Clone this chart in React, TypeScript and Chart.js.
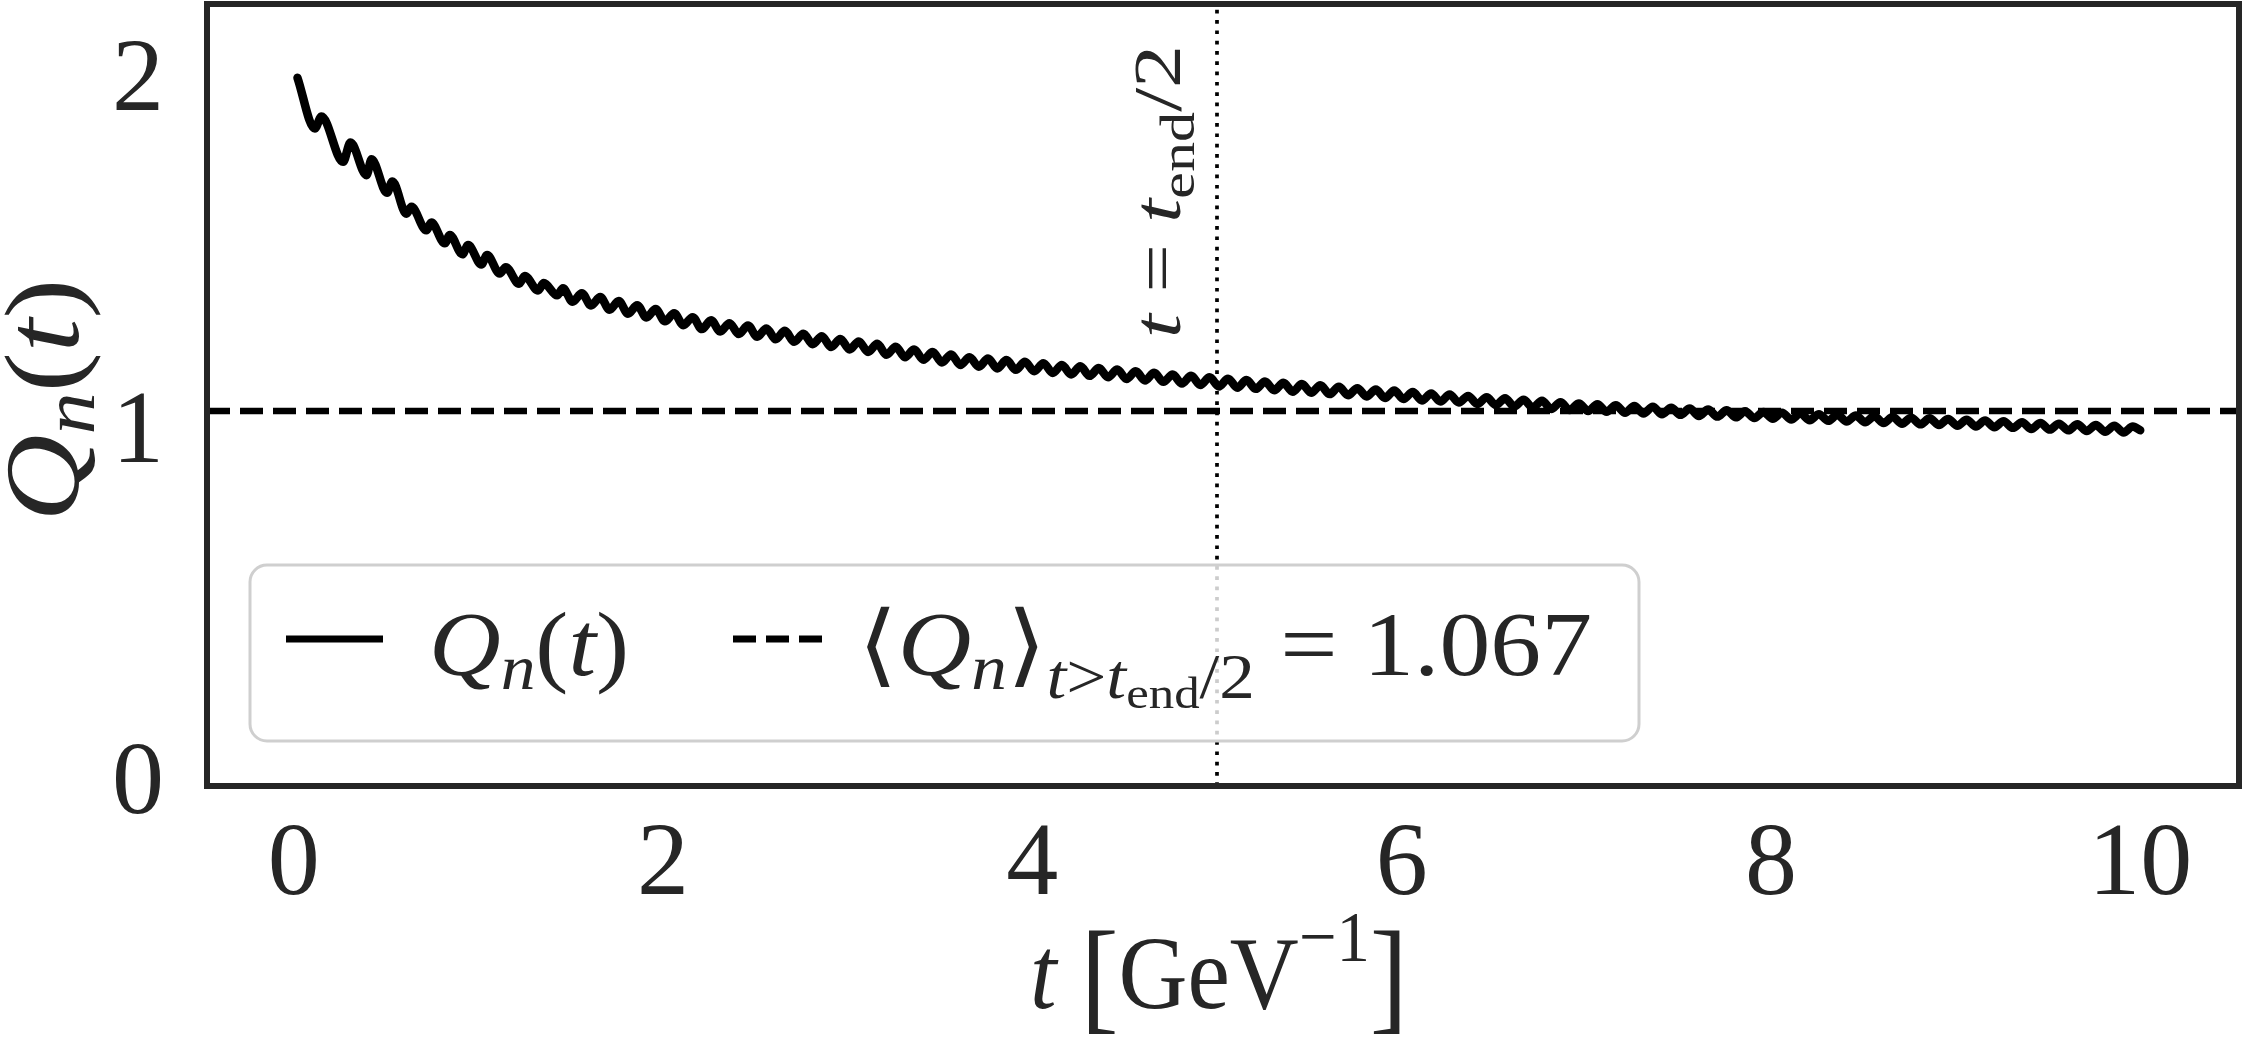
import React, { useEffect, useRef } from "react";
import { Chart, registerables } from "chart.js";

Chart.register(...registerables);

// ---------- data ----------
const T_VALUES: number[] = [
  0.02, 0.114, 0.15, 0.267, 0.307, 0.394, 0.421, 0.505, 0.534, 0.61, 0.637, 0.718, 0.745, 0.818, 0.845,
  0.913, 0.944, 1.016, 1.047, 1.115, 1.148, 1.22, 1.251, 1.323, 1.354, 1.426, 1.458,
  1.51, 1.56, 1.61, 1.66, 1.71, 1.76, 1.81, 1.86, 1.91, 1.96,
  2.01, 2.06, 2.11, 2.16, 2.21, 2.26, 2.31, 2.36, 2.41, 2.46, 2.51, 2.56, 2.61, 2.66, 2.71, 2.76, 2.81, 2.86, 2.91, 2.96,
  3.01, 3.06, 3.11, 3.16, 3.21, 3.26, 3.31, 3.36, 3.41, 3.46, 3.51, 3.56, 3.61, 3.66, 3.71, 3.76, 3.81, 3.86, 3.91, 3.96,
  4.01, 4.06, 4.11, 4.16, 4.21, 4.26, 4.31, 4.36, 4.41, 4.46, 4.51, 4.56, 4.61, 4.66, 4.71, 4.76, 4.81, 4.86, 4.91, 4.96,
  5.01, 5.06, 5.11, 5.16, 5.21, 5.26, 5.31, 5.36, 5.41, 5.46, 5.51, 5.56, 5.61, 5.66, 5.71, 5.76, 5.81, 5.86, 5.91, 5.96,
  6.01, 6.06, 6.11, 6.16, 6.21, 6.26, 6.31, 6.36, 6.41, 6.46, 6.51, 6.56, 6.61, 6.66, 6.71, 6.76, 6.81, 6.86, 6.91, 6.96,
  7.01, 7.06, 7.11, 7.16, 7.21, 7.26, 7.31, 7.36, 7.41, 7.46, 7.51, 7.56, 7.61, 7.66, 7.71, 7.76, 7.81, 7.86, 7.91, 7.96,
  8.01, 8.06, 8.11, 8.16, 8.21, 8.26, 8.31, 8.36, 8.41, 8.46, 8.51, 8.56, 8.61, 8.66, 8.71, 8.76, 8.81, 8.86, 8.91, 8.96,
  9.01, 9.06, 9.11, 9.16, 9.21, 9.26, 9.31, 9.36, 9.41, 9.46, 9.51, 9.56, 9.61, 9.66, 9.71, 9.76, 9.81, 9.86, 9.91, 9.96,
  10.0,
];

const Q_VALUES: number[] = [
  2.015, 1.871, 1.905, 1.776, 1.831, 1.738, 1.783, 1.688, 1.72, 1.628, 1.648, 1.581, 1.603, 1.544, 1.568,
  1.513, 1.539, 1.484, 1.511, 1.458, 1.476, 1.429, 1.451, 1.41, 1.431, 1.396, 1.416,
  1.378, 1.402, 1.367, 1.391, 1.355, 1.38, 1.344, 1.368, 1.333, 1.357,
  1.322, 1.345, 1.311, 1.334, 1.3, 1.325, 1.293, 1.317, 1.286, 1.31, 1.278, 1.302, 1.271, 1.295, 1.264, 1.287, 1.257, 1.28, 1.249, 1.272,
  1.242, 1.265, 1.235, 1.258, 1.227, 1.25, 1.22, 1.242, 1.213, 1.235, 1.205, 1.228, 1.198, 1.22, 1.193, 1.216, 1.188, 1.212, 1.184, 1.207,
  1.18, 1.203, 1.175, 1.198, 1.171, 1.194, 1.167, 1.189, 1.163, 1.185, 1.158, 1.18, 1.154, 1.176, 1.15, 1.171, 1.145, 1.167, 1.141, 1.163,
  1.137, 1.159, 1.133, 1.155, 1.13, 1.151, 1.126, 1.147, 1.122, 1.144, 1.119, 1.14, 1.115, 1.136, 1.112, 1.132, 1.108, 1.128, 1.104, 1.125,
  1.101, 1.121, 1.097, 1.117, 1.094, 1.114, 1.091, 1.11, 1.087, 1.106, 1.084, 1.103, 1.08, 1.099, 1.077, 1.096, 1.073, 1.092, 1.07, 1.088,
  1.067, 1.086, 1.065, 1.083, 1.062, 1.081, 1.06, 1.079, 1.058, 1.076, 1.056, 1.074, 1.053, 1.071, 1.051, 1.069, 1.049, 1.066, 1.047, 1.064,
  1.045, 1.062, 1.043, 1.06, 1.041, 1.058, 1.039, 1.056, 1.037, 1.054, 1.035, 1.052, 1.033, 1.05, 1.031, 1.048, 1.029, 1.046, 1.027, 1.044,
  1.025, 1.042, 1.023, 1.04, 1.021, 1.038, 1.019, 1.035, 1.016, 1.033, 1.014, 1.031, 1.012, 1.029, 1.01, 1.027, 1.008, 1.025, 1.006, 1.023,
  1.012,
];

const MEAN_Q = 1.067;
const T_HALF = 5;
const X_TICKS = [0, 2, 4, 6, 8, 10];
const Y_TICKS = [0, 1, 2];
const X_MIN = -0.47;
const X_MAX = 10.535;
const Y_MIN = 0;
const Y_MAX = 2.225;

// ---------- styling ----------
const W = 2242;
const H = 1041;
const FONT = '"Liberation Serif", "DejaVu Serif", serif';
const TEXT = "#262626";

type Seg = { t: string; it?: boolean; s?: number; dy?: number };

function drawRich(
  ctx: CanvasRenderingContext2D,
  segs: Seg[],
  x: number,
  y: number,
  size: number,
  align: "left" | "center",
  targetW?: number
) {
  let total = 0;
  const widths = segs.map((sg) => {
    const sz = size * (sg.s ?? 1);
    ctx.font = `${sg.it ? "italic " : ""}${sz}px ${FONT}`;
    const w = ctx.measureText(sg.t).width;
    total += w;
    return w;
  });
  const sx = targetW ? targetW / total : 1;
  const drawnW = total * sx;
  const x0 = align === "center" ? x - drawnW / 2 : x;
  ctx.save();
  ctx.translate(x0, y);
  ctx.scale(sx, 1);
  ctx.textAlign = "left";
  ctx.textBaseline = "alphabetic";
  let cx = 0;
  segs.forEach((sg, i) => {
    const sz = size * (sg.s ?? 1);
    ctx.font = `${sg.it ? "italic " : ""}${sz}px ${FONT}`;
    ctx.fillText(sg.t, cx, -(sg.dy ?? 0) * size);
    cx += widths[i];
  });
  ctx.restore();
}

function roundRect(ctx: CanvasRenderingContext2D, x: number, y: number, w: number, h: number, r: number) {
  ctx.beginPath();
  ctx.moveTo(x + r, y);
  ctx.lineTo(x + w - r, y);
  ctx.arcTo(x + w, y, x + w, y + r, r);
  ctx.lineTo(x + w, y + h - r);
  ctx.arcTo(x + w, y + h, x + w - r, y + h, r);
  ctx.lineTo(x + r, y + h);
  ctx.arcTo(x, y + h, x, y + h - r, r);
  ctx.lineTo(x, y + r);
  ctx.arcTo(x, y, x + r, y, r);
  ctx.closePath();
}

const QN_T: Seg[] = [
  { t: "Q", it: true },
  { t: "n", it: true, s: 0.7, dy: -0.15 },
  { t: "(" },
  { t: "t", it: true },
  { t: ")" },
];

const decorPlugin = {
  id: "decor",
  afterDatasetsDraw(chart: any) {
    const { ctx, chartArea } = chart;
    const { left, right, top, bottom } = chartArea;
    ctx.save();
    // frame
    ctx.strokeStyle = TEXT;
    ctx.lineWidth = 6;
    ctx.strokeRect(left, top, right - left, bottom - top);

    ctx.fillStyle = TEXT;
    // y title
    ctx.save();
    ctx.translate(78, 400);
    ctx.rotate(-Math.PI / 2);
    drawRich(ctx, QN_T, 0, 0, 106, "center", 243);
    ctx.restore();

    // x title
    drawRich(
      ctx,
      [
        { t: "t", it: true },
        { t: " ", s: 1.0 },
        { t: "[", s: 1.2, dy: -0.09 },
        { t: "GeV" },
        { t: "\u22121", s: 0.7, dy: 0.45 },
        { t: "]", s: 1.2, dy: -0.09 },
      ],
      1219,
      1008,
      104,
      "center",
      378
    );

    // vertical annotation
    ctx.save();
    ctx.translate(1180, 338);
    ctx.rotate(-Math.PI / 2);
    drawRich(
      ctx,
      [
        { t: "t", it: true },
        { t: " = " },
        { t: "t", it: true },
        { t: "end", s: 0.7, dy: -0.2 },
        { t: "/2" },
      ],
      0,
      0,
      68,
      "left",
      293
    );
    ctx.restore();

    // legend
    ctx.fillStyle = "rgba(255,255,255,0.8)";
    roundRect(ctx, 250, 565, 1389, 176, 17);
    ctx.fill();
    ctx.strokeStyle = "#cfcfcf";
    ctx.lineWidth = 3;
    ctx.stroke();

    ctx.strokeStyle = "#000";
    ctx.lineWidth = 7;
    ctx.lineCap = "butt";
    ctx.setLineDash([]);
    ctx.beginPath();
    ctx.moveTo(286, 639);
    ctx.lineTo(383, 639);
    ctx.stroke();

    ctx.setLineDash([23, 10]);
    ctx.beginPath();
    ctx.moveTo(733, 639);
    ctx.lineTo(825, 639);
    ctx.stroke();
    ctx.setLineDash([]);

    ctx.fillStyle = TEXT;
    drawRich(ctx, QN_T, 429, 675, 90, "left", 200);
    drawRich(
      ctx,
      [
        { t: "\u27E8" },
        { t: "Q", it: true },
        { t: "n", it: true, s: 0.7, dy: -0.15 },
        { t: "\u27E9" },
        { t: "t", it: true, s: 0.7, dy: -0.25 },
        { t: ">", s: 0.7, dy: -0.25 },
        { t: "t", it: true, s: 0.7, dy: -0.25 },
        { t: "end", s: 0.5, dy: -0.37 },
        { t: "/2", s: 0.7, dy: -0.25 },
        { t: " = " + MEAN_Q.toFixed(3), s: 1 },
      ],
      858,
      675,
      90,
      "left",
      734
    );
    ctx.restore();
  },
};

export default function App() {
  const canvasRef = useRef<HTMLCanvasElement | null>(null);

  useEffect(() => {
    const canvas = canvasRef.current;
    if (!canvas) return;
    const curve = T_VALUES.map((t, i) => ({ x: t, y: Q_VALUES[i] }));
    const chart = new Chart(canvas, {
      type: "scatter",
      data: {
        datasets: [
          {
            data: curve,
            showLine: true,
            borderColor: "#000",
            borderWidth: 8.5,
            pointRadius: 0,
            cubicInterpolationMode: "monotone",
            borderCapStyle: "round",
            borderJoinStyle: "round",
          } as any,
          {
            data: [
              { x: X_MIN, y: MEAN_Q },
              { x: X_MAX, y: MEAN_Q },
            ],
            showLine: true,
            borderColor: "#000",
            borderWidth: 6.5,
            borderDash: [23, 10],
            pointRadius: 0,
          } as any,
          {
            data: [
              { x: T_HALF, y: Y_MIN },
              { x: T_HALF, y: Y_MAX },
            ],
            showLine: true,
            borderColor: "#000",
            borderWidth: 3.7,
            borderDash: [3.7, 6.6],
            pointRadius: 0,
          } as any,
        ],
      },
      options: {
        responsive: false,
        animation: false,
        devicePixelRatio: 1,
        layout: { padding: { top: 4, right: 3, left: 0, bottom: 0 } },
        plugins: { legend: { display: false }, tooltip: { enabled: false } },
        scales: {
          x: {
            type: "linear",
            min: X_MIN,
            max: X_MAX,
            grid: { display: false, drawTicks: false },
            border: { display: false },
            ticks: {
              font: { family: FONT, size: 104 },
              color: TEXT,
              padding: 18,
              maxRotation: 0,
              autoSkip: false,
              includeBounds: false,
            },
            afterBuildTicks: (s: any) => {
              s.ticks = X_TICKS.map((v) => ({ value: v }));
            },
            afterFit: (s: any) => {
              s.height = 255;
              s.paddingLeft = 0;
              s.paddingRight = 0;
            },
          },
          y: {
            type: "linear",
            min: Y_MIN,
            max: Y_MAX,
            grid: { display: false, drawTicks: false },
            border: { display: false },
            ticks: {
              font: { family: FONT, size: 104 },
              color: TEXT,
              padding: 43,
              autoSkip: false,
              includeBounds: false,
            },
            afterBuildTicks: (s: any) => {
              s.ticks = Y_TICKS.map((v) => ({ value: v }));
            },
            afterFit: (s: any) => {
              s.width = 207;
              s.paddingTop = 0;
              s.paddingBottom = 0;
            },
          },
        },
      } as any,
      plugins: [decorPlugin],
    });
    return () => chart.destroy();
  }, []);

  return (
    <div style={{ position: "fixed", left: 0, top: 0, width: W, height: H, background: "#fff" }}>
      <canvas ref={canvasRef} width={W} height={H} style={{ display: "block", width: W, height: H }} />
    </div>
  );
}
